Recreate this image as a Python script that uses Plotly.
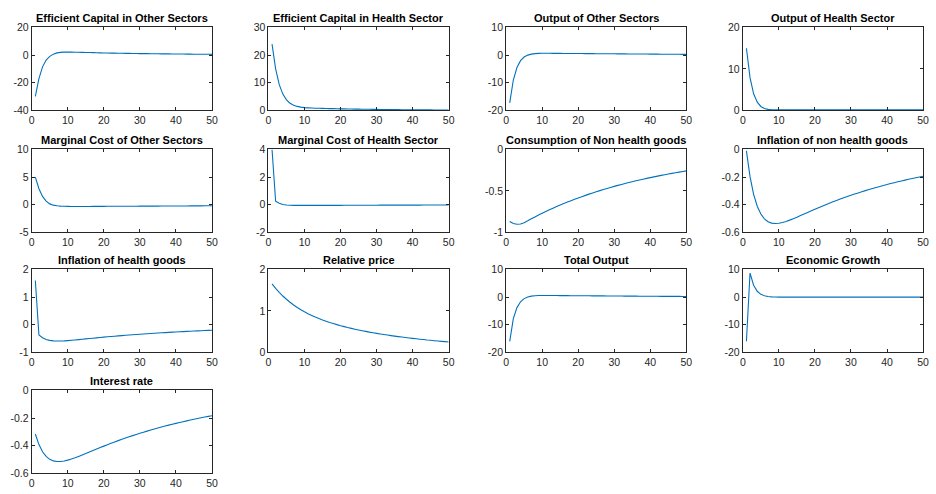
import plotly.graph_objects as go

periods = list(range(1, 51))

titles = [
    "Efficient Capital in Other Sectors", "Efficient Capital in Health Sector",
    "Output of Other Sectors", "Output of Health Sector",
    "Marginal Cost of Other Sectors", "Marginal Cost of Health Sector",
    "Consumption of Non health goods", "Inflation of non health goods",
    "Inflation of health goods", "Relative price", "Total Output",
    "Economic Growth", "Interest rate",
]

eff_cap_other = [-29.8, -17.0, -8.5, -3.6, -0.9, 0.7, 1.6, 2.0, 2.15, 2.2,
                 2.16, 2.1, 2.04, 1.98, 1.91, 1.84, 1.77, 1.7, 1.62, 1.55,
                 1.5, 1.45, 1.41, 1.36, 1.32, 1.27, 1.23, 1.19, 1.15, 1.11,
                 1.08, 1.05, 1.02, 0.99, 0.96, 0.93, 0.9, 0.87, 0.84, 0.81,
                 0.78, 0.76, 0.73, 0.71, 0.68, 0.66, 0.63, 0.61, 0.59, 0.57]
eff_cap_health = [24.0, 15.0, 9.3, 5.9, 3.8, 2.6, 1.9, 1.45, 1.2, 1.02,
                  0.92, 0.85, 0.8, 0.76, 0.72, 0.69, 0.66, 0.63, 0.6, 0.57,
                  0.55, 0.52, 0.5, 0.48, 0.46, 0.44, 0.42, 0.4, 0.38, 0.36,
                  0.35, 0.33, 0.32, 0.3, 0.29, 0.28, 0.26, 0.25, 0.24, 0.23,
                  0.22, 0.21, 0.2, 0.19, 0.18, 0.17, 0.16, 0.15, 0.15, 0.14]
output_other = [-17.3, -9.0, -4.5, -2.0, -0.7, 0.0, 0.35, 0.55, 0.63, 0.66,
                0.66, 0.65, 0.64, 0.63, 0.62, 0.61, 0.6, 0.59, 0.58, 0.57,
                0.56, 0.55, 0.54, 0.53, 0.52, 0.51, 0.5, 0.49, 0.48, 0.47,
                0.46, 0.45, 0.44, 0.43, 0.42, 0.41, 0.4, 0.39, 0.38, 0.37,
                0.36, 0.35, 0.34, 0.33, 0.32, 0.31, 0.3, 0.29, 0.28, 0.27]
output_health = [15.0, 7.9, 4.0, 2.0, 0.95, 0.45, 0.25, 0.17, 0.15, 0.15,
                 0.15, 0.15, 0.15, 0.15, 0.15, 0.15, 0.15, 0.15, 0.15, 0.15,
                 0.15, 0.15, 0.15, 0.15, 0.15, 0.15, 0.15, 0.15, 0.15, 0.15,
                 0.15, 0.15, 0.15, 0.15, 0.15, 0.15, 0.15, 0.15, 0.15, 0.15,
                 0.15, 0.15, 0.15, 0.15, 0.15, 0.15, 0.15, 0.15, 0.15, 0.15]
mc_other = [5.0, 2.9, 1.5, 0.65, 0.15, -0.08, -0.2, -0.26, -0.29, -0.3,
            -0.31, -0.31, -0.31, -0.31, -0.31, -0.31, -0.3, -0.3, -0.3, -0.3,
            -0.29, -0.29, -0.29, -0.28, -0.28, -0.28, -0.27, -0.27, -0.27, -0.26,
            -0.26, -0.26, -0.25, -0.25, -0.25, -0.24, -0.24, -0.24, -0.23, -0.23,
            -0.22, -0.22, -0.22, -0.21, -0.21, -0.2, -0.2, -0.19, -0.19, -0.18]
mc_health = [4.0, 0.25, 0.1, 0.02, -0.02, -0.04, -0.05, -0.05, -0.05, -0.05,
             -0.05, -0.05, -0.05, -0.05, -0.05, -0.05, -0.05, -0.05, -0.05, -0.05,
             -0.04, -0.04, -0.04, -0.04, -0.04, -0.04, -0.04, -0.04, -0.04, -0.04,
             -0.03, -0.03, -0.03, -0.03, -0.03, -0.03, -0.03, -0.03, -0.03, -0.03,
             -0.03, -0.03, -0.02, -0.02, -0.02, -0.02, -0.02, -0.02, -0.02, -0.02]
cons_nonhealth = [-0.868, -0.893, -0.903, -0.899, -0.883, -0.861, -0.837, -0.8135, -0.7907, -0.7687,
                  -0.7475, -0.7274, -0.7078, -0.6888, -0.6703, -0.6523, -0.6348, -0.6177, -0.6011, -0.585,
                  -0.5693, -0.554, -0.5391, -0.5246, -0.5106, -0.4969, -0.4835, -0.4706, -0.4579, -0.4456,
                  -0.4337, -0.422, -0.4107, -0.3997, -0.389, -0.3786, -0.3684, -0.3586, -0.349, -0.3396,
                  -0.3305, -0.3217, -0.3131, -0.3047, -0.2966, -0.2886, -0.2809, -0.2734, -0.2661, -0.259]
infl_nonhealth = [-0.0104, -0.1972, -0.325, -0.4108, -0.4671, -0.5024, -0.5229, -0.5332, -0.5362, -0.5342,
                  -0.5286, -0.5208, -0.5114, -0.501, -0.4899, -0.4785, -0.467, -0.4554, -0.4439, -0.4326,
                  -0.4214, -0.4105, -0.3998, -0.3893, -0.3791, -0.3692, -0.3594, -0.35, -0.3408, -0.3318,
                  -0.323, -0.3145, -0.3061, -0.298, -0.2902, -0.2825, -0.275, -0.2678, -0.2607, -0.2538,
                  -0.2471, -0.2406, -0.2342, -0.228, -0.222, -0.2161, -0.2104, -0.2048, -0.1994, -0.1941]
infl_health = [1.6, -0.3695, -0.4701, -0.5312, -0.5663, -0.5841, -0.5904, -0.5894, -0.5835, -0.5745,
               -0.5635, -0.5514, -0.5387, -0.5256, -0.5124, -0.4993, -0.4865, -0.4737, -0.4613, -0.4491,
               -0.4374, -0.4258, -0.4144, -0.4034, -0.3926, -0.3822, -0.372, -0.3621, -0.3524, -0.343,
               -0.3339, -0.325, -0.3164, -0.3079, -0.2997, -0.2918, -0.284, -0.2764, -0.2691, -0.2619,
               -0.2549, -0.2481, -0.2415, -0.2351, -0.2288, -0.2227, -0.2168, -0.211, -0.2054, -0.1999]
relative_price = [1.651, 1.543, 1.447, 1.359, 1.281, 1.209, 1.144, 1.084, 1.03, 0.98,
                  0.934, 0.892, 0.853, 0.817, 0.783, 0.752, 0.722, 0.695, 0.669, 0.644,
                  0.621, 0.599, 0.579, 0.559, 0.54, 0.523, 0.506, 0.489, 0.474, 0.459,
                  0.445, 0.431, 0.418, 0.405, 0.393, 0.381, 0.369, 0.358, 0.348, 0.337,
                  0.327, 0.318, 0.309, 0.299, 0.291, 0.282, 0.274, 0.266, 0.259, 0.251]
total_output = [-16.0, -7.8, -3.8, -1.7, -0.55, 0.05, 0.35, 0.5, 0.56, 0.58,
                0.58, 0.57, 0.56, 0.55, 0.54, 0.53, 0.52, 0.51, 0.5, 0.49,
                0.48, 0.47, 0.46, 0.45, 0.44, 0.43, 0.42, 0.41, 0.4, 0.39,
                0.38, 0.37, 0.36, 0.35, 0.34, 0.33, 0.32, 0.31, 0.31, 0.3,
                0.29, 0.28, 0.27, 0.27, 0.26, 0.25, 0.24, 0.24, 0.23, 0.22]
econ_growth = [-16.0, 8.7, 4.3, 2.1, 1.0, 0.5, 0.2, 0.08, 0.02, -0.01,
               -0.02, -0.03, -0.03, -0.03, -0.03, -0.03, -0.03, -0.03, -0.03, -0.03,
               -0.03, -0.03, -0.02, -0.02, -0.02, -0.02, -0.02, -0.02, -0.02, -0.02,
               -0.02, -0.02, -0.02, -0.02, -0.02, -0.02, -0.02, -0.02, -0.01, -0.01,
               -0.01, -0.01, -0.01, -0.01, -0.01, -0.01, -0.01, -0.01, -0.01, -0.01]
interest_rate = [-0.3152, -0.3916, -0.4434, -0.4774, -0.4984, -0.5099, -0.5146, -0.5144, -0.5106, -0.5044,
                 -0.4964, -0.4874, -0.4775, -0.467, -0.4564, -0.4456, -0.4348, -0.4241, -0.4135, -0.403,
                 -0.3927, -0.3827, -0.3728, -0.3632, -0.3538, -0.3448, -0.3358, -0.327, -0.3185, -0.3102,
                 -0.3021, -0.2943, -0.2866, -0.2791, -0.2719, -0.2648, -0.2579, -0.2511, -0.2446, -0.2382,
                 -0.232, -0.226, -0.2201, -0.2143, -0.2087, -0.2033, -0.198, -0.1928, -0.1878, -0.1829]

series = [eff_cap_other, eff_cap_health, output_other, output_health,
          mc_other, mc_health, cons_nonhealth, infl_nonhealth,
          infl_health, relative_price, total_output, econ_growth, interest_rate]

y_ticks = [
    [-40, -20, 0, 20], [0, 10, 20, 30], [-20, -10, 0, 10], [0, 10, 20],
    [-5, 0, 5, 10], [-2, 0, 2, 4], [-1, -0.5, 0], [-0.6, -0.4, -0.2, 0],
    [-1, 0, 1, 2], [0, 1, 2], [-20, -10, 0, 10], [-20, -10, 0, 10],
    [-0.6, -0.4, -0.2, 0],
]
x_ticks = [0, 10, 20, 30, 40, 50]

W, H = 936, 494
col_left = [29, 268, 508, 747]
row_top = [22, 147, 270, 394]
pw, ph = 182, 85

FONT = "Liberation Sans, Arial, Helvetica, sans-serif"
AX = "#262626"

def fmt(v):
    return "%g" % v

fig = go.Figure()
annotations = []
layout = {}
for i, (title, ys, yt) in enumerate(zip(titles, series, y_ticks)):
    r, c = divmod(i, 4)
    n = "" if i == 0 else str(i + 1)
    x0 = col_left[c] / W
    x1 = min(1.0, (col_left[c] + pw) / W)
    y1 = 1 - row_top[r] / H
    y0 = max(0.0, 1 - (row_top[r] + ph) / H)
    fig.add_trace(go.Scatter(x=periods, y=ys, mode="lines",
                             line=dict(color="#0072BD", width=1.1, simplify=False),
                             xaxis="x" + n, yaxis="y" + n,
                             showlegend=False, hoverinfo="skip"))
    common = dict(showline=True, linecolor=AX, linewidth=1, mirror="ticks",
                  ticks="inside", ticklen=3, tickcolor=AX, tickwidth=1,
                  showgrid=False, zeroline=False,
                  tickfont=dict(family=FONT, size=10.5, color=AX))
    layout["xaxis" + n] = dict(domain=[x0, x1], anchor="y" + n, range=[0, 50],
                               tickvals=x_ticks, ticktext=[fmt(v) for v in x_ticks],
                               **common)
    layout["yaxis" + n] = dict(domain=[y0, y1], anchor="x" + n,
                               range=[yt[0], yt[-1]],
                               tickvals=yt, ticktext=[fmt(v) for v in yt],
                               **common)
    annotations.append(dict(text="<b>%s</b>" % title, x=(x0 + x1) / 2, y=y1,
                            xref="paper", yref="paper", xanchor="center",
                            yanchor="bottom", yshift=1, showarrow=False,
                            font=dict(family=FONT, size=11, color="#000000")))

fig.update_layout(width=W, height=H, margin=dict(l=0, r=0, t=0, b=0),
                  paper_bgcolor="white", plot_bgcolor="white",
                  annotations=annotations, **layout)
fig.write_html("out.html")
